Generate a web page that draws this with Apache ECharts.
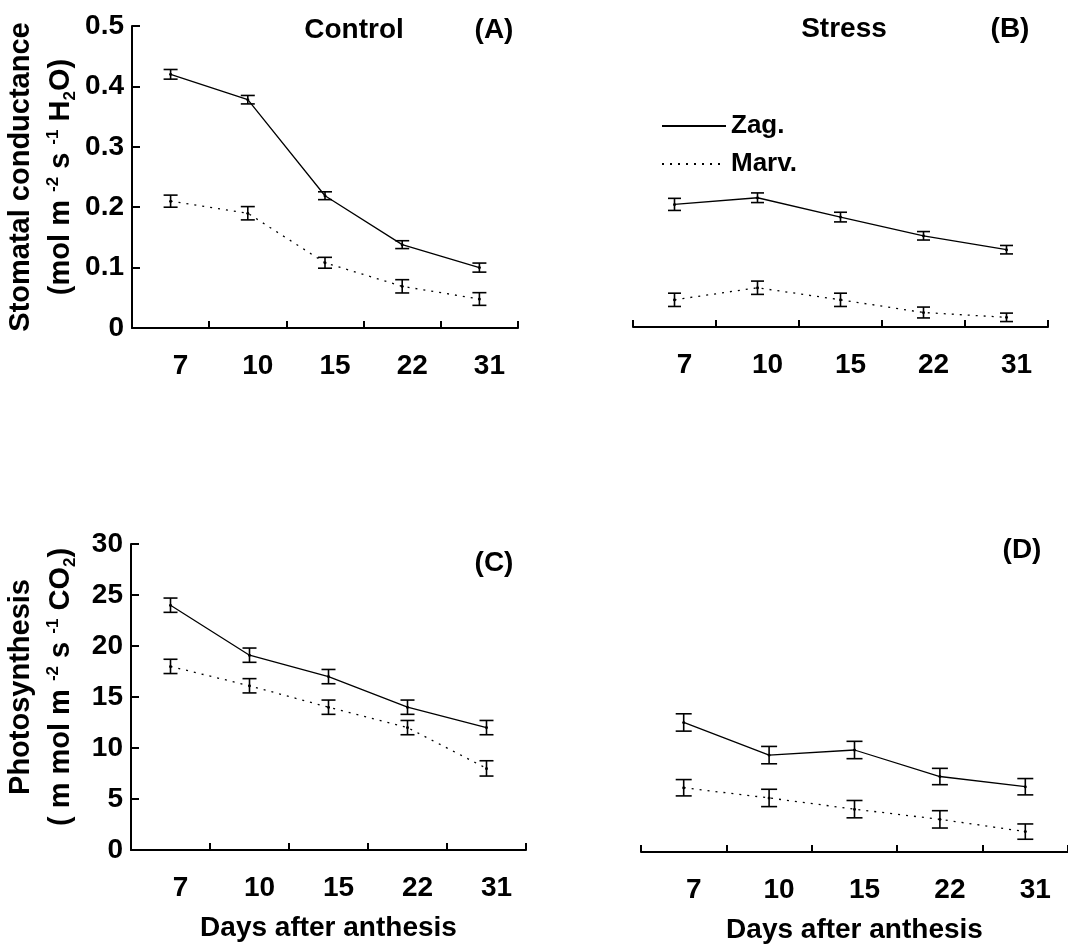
<!DOCTYPE html>
<html>
<head>
<meta charset="utf-8">
<style>
  html, body { margin: 0; padding: 0; background: #fff; }
  #main { width: 1068px; height: 945px; }
</style>
<script src="https://cdn.jsdelivr.net/npm/echarts@6/dist/echarts.min.js"></script>
</head>
<body>
<div id="main"></div>
<script>
// days after anthesis
const days = ['7', '10', '15', '22', '31'];

// stomatal conductance (mol m-2 s-1 H2O)
const gsZagControl = [0.42, 0.378, 0.219, 0.138, 0.1];
const gsZagControlErr = [0.008, 0.007, 0.0065, 0.0065, 0.0075];
const gsMarvControl = [0.21, 0.19, 0.108, 0.069, 0.048];
const gsMarvControlErr = [0.01, 0.011, 0.009, 0.011, 0.0105];
const gsZagStress = [0.203, 0.214, 0.182, 0.151, 0.128];
const gsZagStressErr = [0.01, 0.008, 0.008, 0.007, 0.007];
const gsMarvStress = [0.045, 0.065, 0.045, 0.024, 0.016];
const gsMarvStressErr = [0.011, 0.011, 0.011, 0.009, 0.007];

// photosynthesis (m mol m-2 s-1 CO2)
const pnZagControl = [24, 19.1, 17, 14, 12];
const pnZagControlErr = [0.7, 0.7, 0.7, 0.7, 0.7];
const pnMarvControl = [18, 16.1, 14, 12, 8];
const pnMarvControlErr = [0.7, 0.7, 0.7, 0.7, 0.75];
const pnZagStress = [12.7, 9.5, 10, 7.4, 6.4];
const pnZagStressErr = [0.85, 0.85, 0.85, 0.8, 0.8];
const pnMarvStress = [6.3, 5.3, 4.2, 3.2, 2.0];
const pnMarvStressErr = [0.8, 0.85, 0.85, 0.85, 0.75];

const FONT = "'Liberation Sans', Arial, sans-serif";
const BLACK = '#000';

let myChart = echarts.init(document.getElementById('main'));

function xAxisFor(gridIndex, withName) {
    return {
        type: 'category',
        gridIndex: gridIndex,
        data: days,
        boundaryGap: true,
        axisLine: {show: true, lineStyle: {color: BLACK, width: 2}},
        axisTick: {show: true, inside: true, length: 7, interval: 0, alignWithLabel: false, lineStyle: {color: BLACK, width: 2}},
        axisLabel: {
            interval: 0,
            margin: 24,
            padding: [0, 0, 0, 20],
            fontSize: 28,
            fontWeight: 'bold',
            fontFamily: FONT,
            color: BLACK,
        },
        splitLine: {show: false},
        name: withName ? 'Days after anthesis' : '',
        nameLocation: 'middle',
        nameGap: 64,
        nameTextStyle: {fontSize: 28, fontWeight: 'bold', fontFamily: FONT, color: BLACK},
    };
}

const richName = {
    t: {fontSize: 29, fontWeight: 'bold', fontFamily: FONT, color: BLACK, lineHeight: 40},
    sup: {fontSize: 17, fontWeight: 'bold', fontFamily: FONT, color: BLACK, lineHeight: 17, verticalAlign: 'top', padding: [4, 0, 0, 0]},
    sub: {fontSize: 17, fontWeight: 'bold', fontFamily: FONT, color: BLACK, lineHeight: 17, verticalAlign: 'bottom', padding: [0, 0, 2, 0]},
};

function yAxisFor(gridIndex, max, interval, show, name, shiftUp) {
    return {
        type: 'value',
        gridIndex: gridIndex,
        min: 0,
        max: max,
        interval: interval,
        show: show,
        axisLine: {show: true, lineStyle: {color: BLACK, width: 2}},
        axisTick: {show: true, inside: true, length: 8, lineStyle: {color: BLACK, width: 2}},
        axisLabel: {
            margin: 8,
            fontSize: 28,
            fontWeight: 'bold',
            fontFamily: FONT,
            color: BLACK,
        },
        splitLine: {show: false},
        name: name,
        nameLocation: 'middle',
        nameRotate: 90,
        nameGap: 50,
        nameTextStyle: {rich: richName, padding: [0, 0, 0, shiftUp || 0]},
    };
}

function errorBars(capHalf) {
    return function (params, api) {
        const x = api.value(0);
        const lo = api.coord([x, api.value(1)]);
        const hi = api.coord([x, api.value(2)]);
        const style = {stroke: BLACK, lineWidth: 1.6};
        return {
            type: 'group',
            children: [
                {type: 'line', shape: {x1: lo[0], y1: lo[1], x2: hi[0], y2: hi[1]}, style: style},
                {type: 'line', shape: {x1: lo[0] - capHalf, y1: lo[1], x2: lo[0] + capHalf, y2: lo[1]}, style: style},
                {type: 'line', shape: {x1: hi[0] - capHalf, y1: hi[1], x2: hi[0] + capHalf, y2: hi[1]}, style: style},
            ],
        };
    };
}

function lineSeries(name, values, idx, dotted) {
    return {
        name: name,
        type: 'line',
        xAxisIndex: idx,
        yAxisIndex: idx,
        data: values,
        symbol: 'circle',
        symbolSize: 3,
        itemStyle: {color: BLACK},
        lineStyle: {color: BLACK, width: 1.3, type: dotted ? [2, 6] : 'solid'},
        animation: false,
        z: 3,
    };
}

function barSeries(values, errs, idx, capHalf) {
    return {
        type: 'custom',
        xAxisIndex: idx,
        yAxisIndex: idx,
        silent: true,
        renderItem: errorBars(capHalf),
        data: values.map((v, i) => [i, v - errs[i], v + errs[i]]),
        animation: false,
        z: 4,
    };
}

function label(text, x, y) {
    return {
        type: 'text',
        x: x,
        y: y,
        style: {
            text: text,
            fontSize: 28,
            fontWeight: 'bold',
            fontFamily: FONT,
            fill: BLACK,
            align: 'center',
            verticalAlign: 'middle',
        },
    };
}

let option = {
    backgroundColor: '#fff',
    grid: [
        {left: 132, top: 26, width: 386, height: 302},
        {left: 633, top: 25, width: 415, height: 302},
        {left: 131, top: 544, width: 395, height: 306},
        {left: 641, top: 546, width: 430, height: 306},
    ],
    legend: {
        left: 656,
        top: 108,
        orient: 'vertical',
        itemWidth: 64,
        itemHeight: 14,
        itemGap: 12,
        data: ['Zag.', 'Marv.'],
        itemStyle: {opacity: 0},
        textStyle: {fontSize: 26, fontWeight: 'bold', fontFamily: FONT, color: BLACK, lineHeight: 26, padding: [0, 0, 0, 0]},
    },
    xAxis: [
        xAxisFor(0, false),
        xAxisFor(1, false),
        xAxisFor(2, true),
        xAxisFor(3, true),
    ],
    yAxis: [
        yAxisFor(0, 0.5, 0.1, true,
            '{t|Stomatal conductance}\n{t|(mol m }{sup|-2}{t| s }{sup|-1}{t| H}{sub|2}{t|O)}', 0),
        yAxisFor(1, 0.5, 0.1, false, '', 0),
        yAxisFor(2, 30, 5, true,
            '{t|Photosynthesis}\n{t|( m mol m }{sup|-2}{t| s }{sup|-1}{t| CO}{sub|2}{t|)}', 20),
        yAxisFor(3, 30, 5, false, '', 0),
    ],
    graphic: [
        label('Control', 354, 30),
        label('(A)', 494, 30),
        label('Stress', 844, 29),
        label('(B)', 1010, 29),
        label('(C)', 494, 563),
        label('(D)', 1022, 550),
    ],
    series: [
        lineSeries('Zag.', gsZagControl, 0, false),
        lineSeries('Marv.', gsMarvControl, 0, true),
        barSeries(gsZagControl, gsZagControlErr, 0, 7),
        barSeries(gsMarvControl, gsMarvControlErr, 0, 7),

        lineSeries('Zag.', gsZagStress, 1, false),
        lineSeries('Marv.', gsMarvStress, 1, true),
        barSeries(gsZagStress, gsZagStressErr, 1, 6.5),
        barSeries(gsMarvStress, gsMarvStressErr, 1, 6.5),

        lineSeries('Zag.', pnZagControl, 2, false),
        lineSeries('Marv.', pnMarvControl, 2, true),
        barSeries(pnZagControl, pnZagControlErr, 2, 7),
        barSeries(pnMarvControl, pnMarvControlErr, 2, 7),

        lineSeries('Zag.', pnZagStress, 3, false),
        lineSeries('Marv.', pnMarvStress, 3, true),
        barSeries(pnZagStress, pnZagStressErr, 3, 8),
        barSeries(pnMarvStress, pnMarvStressErr, 3, 8),
    ],
};

option && myChart.setOption(option);
</script>
</body>
</html>
